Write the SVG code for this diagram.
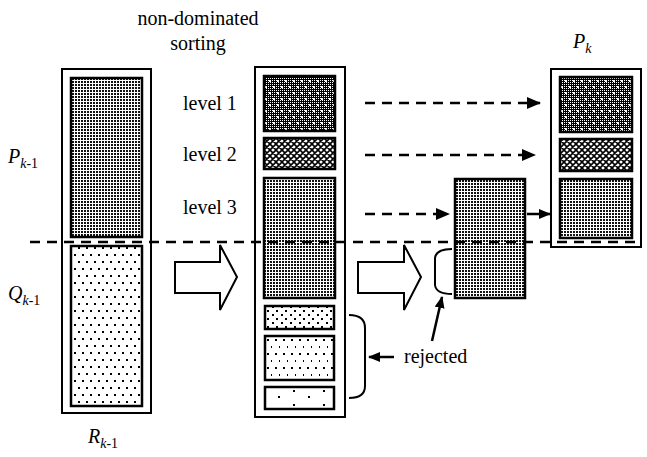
<svg xmlns="http://www.w3.org/2000/svg" width="647" height="457" viewBox="0 0 647 457">
<style>
.t{font-size:20px;fill:#000}
.it{font-style:italic}
.sub{font-size:14px}
.outer{fill:#fff;stroke:#000;stroke-width:2}
.inner{stroke:#000;stroke-width:2.5}
.dash{fill:none;stroke:#000;stroke-width:2.5;stroke-dasharray:10 7}
.line{fill:none;stroke:#000;stroke-width:2.5}
.block{fill:#fff;stroke:#000;stroke-width:2}
.br{fill:none;stroke:#000;stroke-width:2}
</style>
<defs>
<pattern id="chk" width="2" height="2" patternUnits="userSpaceOnUse">
<rect width="2" height="2" fill="#000"/><rect width="1" height="1" fill="#fff"/>
</pattern>
<pattern id="wdots" width="8" height="12" patternUnits="userSpaceOnUse">
<rect x="1" y="2" width="2" height="2" fill="#fff"/><rect x="5" y="8" width="2" height="2" fill="#fff"/>
</pattern>
<pattern id="xh" width="6" height="6" patternUnits="userSpaceOnUse">
<rect width="6" height="6" fill="#fff"/>
<path d="M0,0 L6,6 M6,0 L0,6 M-1,5 L1,7 M5,-1 L7,1 M-1,1 L1,-1 M5,7 L7,5" stroke="#000" stroke-width="1.6"/>
</pattern>
<pattern id="dd" width="3" height="3" patternUnits="userSpaceOnUse">
<rect width="3" height="3" fill="#fff"/><rect width="2" height="2" fill="#111"/>
</pattern>
<pattern id="sq" width="8" height="14" patternUnits="userSpaceOnUse">
<rect width="8" height="14" fill="#fff"/><rect x="2" y="2" width="2" height="2" fill="#000"/><rect x="6" y="9" width="2" height="2" fill="#000"/>
</pattern>
<pattern id="s1" width="9" height="8" patternUnits="userSpaceOnUse">
<rect width="9" height="8" fill="#fff"/><rect x="2" y="2" width="2" height="2" fill="#000"/><rect x="6" y="6" width="2" height="2" fill="#000"/>
</pattern>
<pattern id="s2" width="8" height="14" patternUnits="userSpaceOnUse">
<rect width="8" height="14" fill="#fff"/><rect x="3" y="3" width="2" height="2" fill="#000"/><rect x="7" y="10" width="2" height="2" fill="#000"/>
</pattern>
<pattern id="s3" width="30" height="14" patternUnits="userSpaceOnUse">
<rect width="30" height="14" fill="#fff"/><rect x="8" y="4" width="2" height="2" fill="#000"/><rect x="23" y="12" width="2" height="2" fill="#000"/>
</pattern>
<marker id="ah" markerWidth="14" markerHeight="12" refX="13" refY="6" orient="auto" markerUnits="userSpaceOnUse">
<path d="M0,0 L14,6 L0,12 Z" fill="#000"/>
</marker>
<marker id="ah2" markerWidth="12" markerHeight="10" refX="11" refY="5" orient="auto" markerUnits="userSpaceOnUse">
<path d="M0,0 L12,5 L0,10 Z" fill="#000"/>
</marker>
</defs>
<rect width="647" height="457" fill="#fff"/>

<g id="labels" font-family="Liberation Serif, DejaVu Serif, serif">
<text class="t" x="198" y="25" text-anchor="middle">non-dominated</text>
<text class="t" x="198" y="50" text-anchor="middle">sorting</text>
<text class="t" x="8" y="163"><tspan class="it">P</tspan><tspan class="sub it" dy="5">k</tspan><tspan class="sub">-1</tspan></text>
<text class="t" x="8" y="300"><tspan class="it">Q</tspan><tspan class="sub it" dy="5">k</tspan><tspan class="sub">-1</tspan></text>
<text class="t" x="88" y="443"><tspan class="it">R</tspan><tspan class="sub it" dy="5">k</tspan><tspan class="sub">-1</tspan></text>
<text class="t" x="573" y="48"><tspan class="it">P</tspan><tspan class="sub it" dy="5">k</tspan></text>
<text class="t" x="183" y="110">level 1</text>
<text class="t" x="183" y="161">level 2</text>
<text class="t" x="183" y="214">level 3</text>
<text class="t" x="404" y="363">rejected</text>
</g>

<g id="R">
<rect class="outer" x="62" y="69" width="89" height="344"/>
<rect class="inner" x="71" y="78" width="71" height="159" fill="url(#dd)"/>
<rect class="inner" x="71" y="246" width="71" height="160" fill="url(#sq)"/>
</g>

<g id="sorted">
<rect class="outer" x="255" y="67" width="90" height="350"/>
<rect x="264" y="76" width="71" height="55" fill="url(#chk)"/>
<rect class="inner" x="264" y="76" width="71" height="55" fill="url(#wdots)"/>
<rect class="inner" x="264" y="138" width="71" height="31" fill="url(#xh)"/>
<rect class="inner" x="264" y="178" width="71" height="120" fill="url(#dd)"/>
<rect class="inner" x="265" y="306" width="69" height="23" fill="url(#s1)"/>
<rect class="inner" x="265" y="336" width="69" height="44" fill="url(#s2)"/>
<rect class="inner" x="265" y="387" width="69" height="22" fill="url(#s3)"/>
</g>

<g id="trunc">
<rect class="inner" x="455" y="179" width="70" height="119" fill="url(#dd)"/>
</g>

<g id="Pk">
<rect class="outer" x="551" y="69" width="90" height="178"/>
<rect x="560" y="77" width="72" height="55" fill="url(#chk)"/>
<rect class="inner" x="560" y="77" width="72" height="55" fill="url(#wdots)"/>
<rect class="inner" x="560" y="139" width="72" height="32" fill="url(#xh)"/>
<rect class="inner" x="560" y="179" width="72" height="59" fill="url(#dd)"/>
</g>

<g id="connectors">
<line class="dash" x1="30" y1="242" x2="641" y2="242"/>
<line class="dash" x1="365" y1="103" x2="540" y2="103" marker-end="url(#ah)"/>
<line class="dash" x1="365" y1="155" x2="535" y2="155" marker-end="url(#ah)"/>
<line class="dash" x1="365" y1="214" x2="449" y2="214" marker-end="url(#ah)"/>
<line class="line" x1="527" y1="214" x2="550" y2="214" marker-end="url(#ah2)"/>
<polygon class="block" points="175,262 220,262 220,245 237,277 220,310 220,293 175,293"/>
<polygon class="block" points="358,262 404,262 404,245 421,277 404,310 404,293 358,293"/>
<path class="br" d="M452,249 Q436,249 435,258 L435,285 Q436,294 452,294"/>
<path class="br" d="M349,315 Q365,315 365,328 L365,386 Q365,398 349,398"/>
<line class="line" x1="394" y1="357" x2="369" y2="357" marker-end="url(#ah2)"/>
<line class="line" x1="432" y1="341" x2="442" y2="297" marker-end="url(#ah2)"/>
</g>
</svg>
